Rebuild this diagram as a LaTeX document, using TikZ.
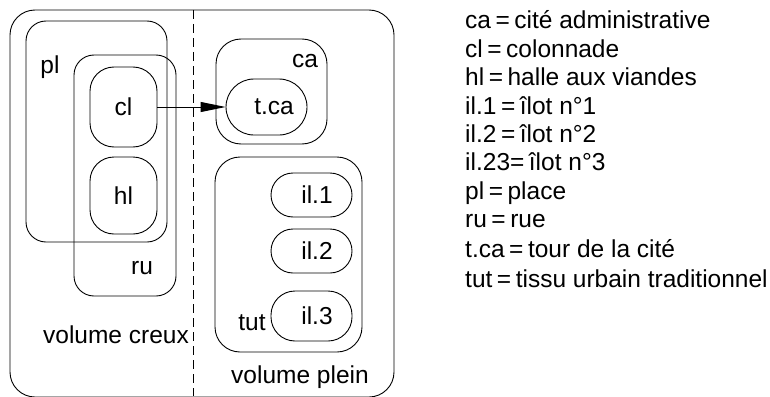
\documentclass[tikz,border=0pt]{standalone}
\usepackage{fontspec}
\setmainfont{Liberation Sans}
\usetikzlibrary{arrows.meta}
\newcommand{\reffont}{\fontsize{24.5}{30}\selectfont}
\newcommand{\eqs}{\hspace{4.5pt}=\hspace{4.5pt}}
\begin{document}
\begin{tikzpicture}[x=1pt,y=-1pt,
  txt/.style={font=\reffont, inner sep=0pt},
  rbox/.style={draw, line width=0.9pt, rounded corners=#1, inner sep=0pt, font=\reffont},
  leg/.style={txt, anchor=base west},
  link/.style={line width=0.9pt, -{Triangle[length=25pt,width=10pt]}},
  divider/.style={line width=0.9pt, dash pattern=on 9pt off 5pt}]
\useasboundingbox (0,0) rectangle (770,396);
% outer frame
\node[rbox=25pt, minimum width=384pt, minimum height=387pt] (outer) at (202,203.5) {};
% hollow volume
\node[rbox=20pt, minimum width=141pt, minimum height=221pt] (pl) at (96.5,131.5) {};
\node[rbox=20pt, minimum width=102pt, minimum height=241pt] (ru) at (125,175.5) {};
\node[rbox=24pt, minimum width=67pt, minimum height=80pt] (cl) at (123.5,107) {cl};
\node[rbox=24pt, minimum width=67pt, minimum height=77pt] (hl) at (123.5,195.5) {hl};
\node[txt] (plL) at (50,67) {pl};
\node[txt] (ruL) at (142,268) {ru};
\node[txt] (vc) at (116,335) {volume creux};
% full volume
\node[rbox=25pt, minimum width=111pt, minimum height=105pt] (ca) at (271.5,91.5) {};
\node[txt] (caL) at (305,61) {ca};
\node[rbox=28pt, minimum width=81pt, minimum height=56pt] (tca) at (266.5,107) {\hspace{15pt}t.ca};
\node[rbox=25pt, minimum width=147pt, minimum height=195pt] (tut) at (288.5,254.5) {};
\node[rbox=22pt, minimum width=81pt, minimum height=44pt] (il1) at (311.5,195) {\hspace{11pt}il.1};
\node[rbox=22pt, minimum width=81pt, minimum height=44pt] (il2) at (311.5,251) {\hspace{11pt}il.2};
\node[rbox=24pt, minimum width=81pt, minimum height=50pt] (il3) at (311.5,316) {\hspace{11pt}il.3};
\node[txt] (tutL) at (252,323) {tut};
\node[txt] (vp) at (300,377) {volume plein};
% divider
\coordinate (dtop) at (193,10);
\coordinate (dbot) at (193,396);
\draw[divider] (dtop) -- (dbot);
% link
\draw[link] (cl.east) -- (tca.west);
% legend
\node[leg] (l1) at (465,29) {ca\eqs cité administrative};
\node[leg] (l2) at (465,57) {cl\eqs colonnade};
\node[leg] (l3) at (465,85) {hl\eqs halle aux viandes};
\node[leg] (l4) at (465,114) {il.1\eqs îlot n°1};
\node[leg] (l5) at (465,142) {il.2\eqs îlot n°2};
\node[leg] (l6) at (465,170) {il.23=\hspace{4.5pt}îlot n°3};
\node[leg] (l7) at (465,199) {pl\eqs place};
\node[leg] (l8) at (465,227) {ru\eqs rue};
\node[leg] (l9) at (465,257) {t.ca\eqs tour de la cité};
\node[leg] (l10) at (465,287) {tut\eqs tissu urbain traditionnel};
\end{tikzpicture}
\end{document}
